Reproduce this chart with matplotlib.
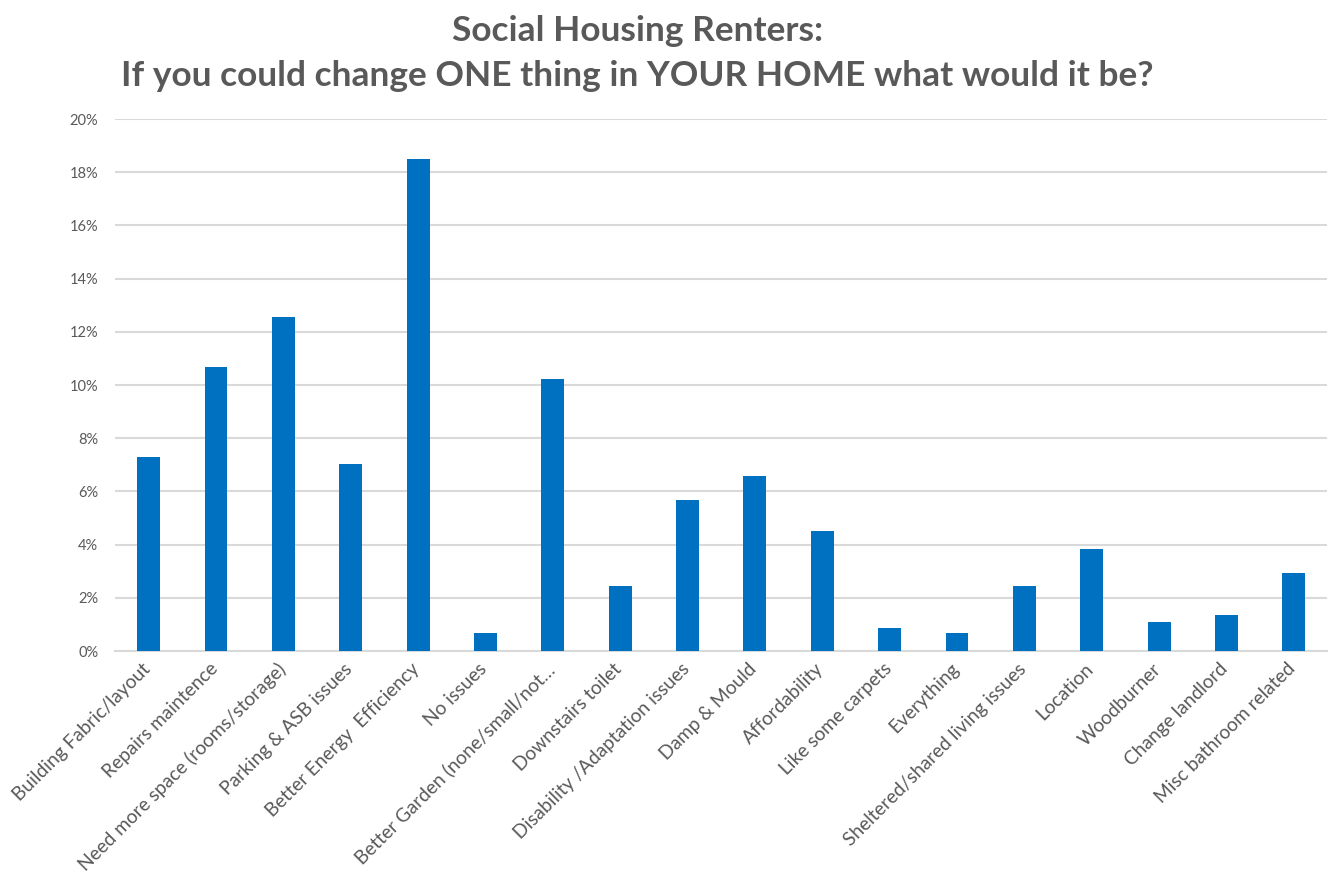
import matplotlib.pyplot as plt
from matplotlib.ticker import PercentFormatter
from matplotlib.transforms import ScaledTranslation

categories = [
    "Building Fabric/layout", "Repairs maintence", "Need more space (rooms/storage)",
    "Parking & ASB issues", "Better Energy  Efficiency", "No issues",
    "Better Garden (none/small/not\u2026", "Downstairs toilet", "Disability /Adaptation issues",
    "Damp & Mould", "Affordability", "Like some carpets", "Everything",
    "Sheltered/shared living issues", "Location", "Woodburner", "Change landlord",
    "Misc bathroom related",
]
shares = [7.29, 10.69, 12.54, 7.03, 18.48, 0.67, 10.24, 2.46, 5.67,
          6.57, 4.53, 0.88, 0.67, 2.46, 3.85, 1.08, 1.35, 2.93]
yticks = [0, 2, 4, 6, 8, 10, 12, 14, 16, 18, 20]

grey = "#595959"
plt.rcParams['font.family'] = ['Lato', 'DejaVu Sans']

fig = plt.figure(figsize=(13.28, 8.89), dpi=100)
ax = fig.add_axes([0.0866, 0.2677, 0.913, 0.5984])

x = range(len(categories))
ax.bar(x, shares, width=0.34, color="#0070c0", zorder=3)

ax.set_xlim(-0.5, len(categories) - 0.5)
ax.set_ylim(0, 20)
ax.set_yticks(yticks)
ax.yaxis.set_major_formatter(PercentFormatter(decimals=0))
ax.grid(axis='y', color="#d9d9d9", linewidth=1.5, zorder=0)
for side in ['top', 'right', 'left']:
    ax.spines[side].set_visible(False)
ax.spines['bottom'].set_color("#d9d9d9")
ax.spines['bottom'].set_linewidth(1.5)
ax.tick_params(axis='both', length=0, colors=grey)
ax.tick_params(axis='y', pad=12, labelsize=10.5)

ax.set_xticks(list(x))
ax.set_xticklabels(categories, rotation=45, ha='right', rotation_mode='anchor',
                   fontsize=13.8, color=grey)
ax.tick_params(axis='x', pad=8)
# nudge rotated labels so they end under each bar
shift = ScaledTranslation(-7 / 100, 2 / 100, fig.dpi_scale_trans)
for lbl in ax.get_xticklabels():
    lbl.set_transform(lbl.get_transform() + shift)

fig.text(0.48, 0.965, "Social Housing Renters:", ha='center', va='center',
         fontsize=25.4, fontweight='bold', color=grey)
fig.text(0.48, 0.915, "If you could change ONE thing in YOUR HOME what would it be?",
         ha='center', va='center', fontsize=25.4, fontweight='bold', color=grey)

fig.savefig("out.png", dpi=100)
